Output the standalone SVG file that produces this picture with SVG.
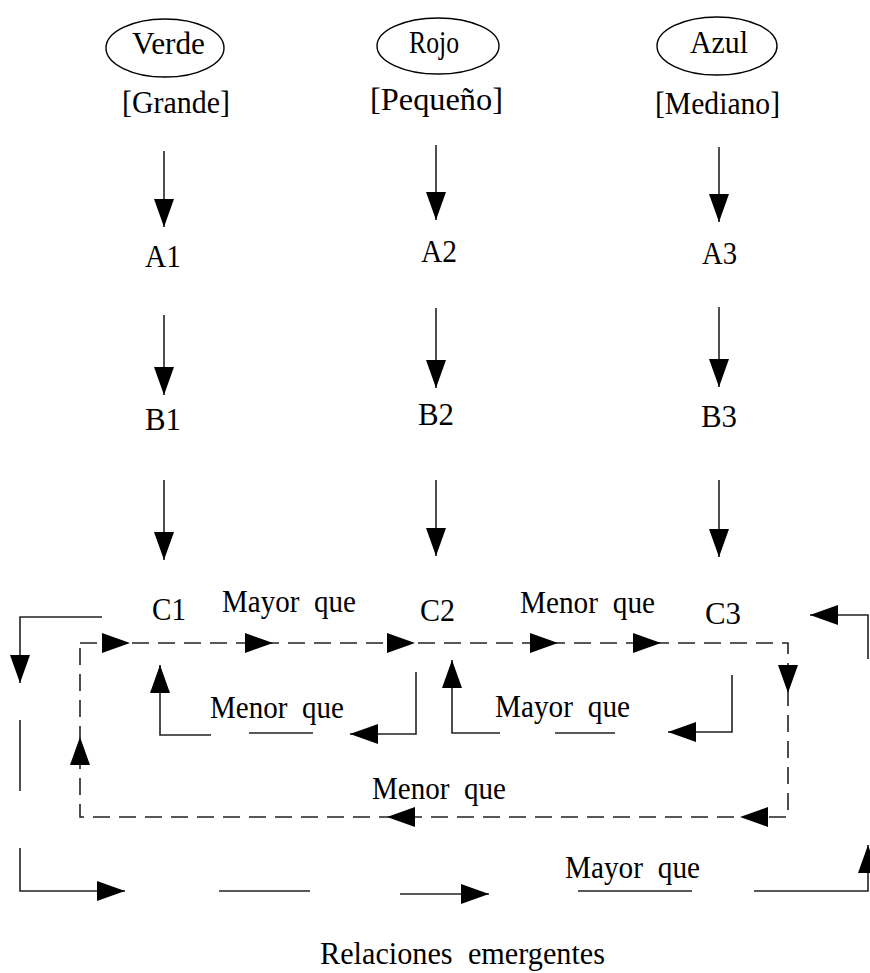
<svg xmlns="http://www.w3.org/2000/svg" xmlns:xlink="http://www.w3.org/1999/xlink" width="870" height="973" viewBox="0 0 870 973">
<style>
  text { font-family: "Liberation Serif", "Times New Roman", serif; font-size: 31px; fill: #000; }
  .wl { word-spacing: 8px; }
  .ln { fill: none; stroke: #222; stroke-width: 1.6; }
  .dash { fill: none; stroke: #222; stroke-width: 1.6; stroke-dasharray: 17 9; }
  .node { fill: #fff; stroke: #000; stroke-width: 1.4; }
  .ah { fill: #000; }
</style>
<defs>
  <path id="tri" d="M-28,-10 L0,0 L-28,10 Z"/>
  <marker id="arr" markerUnits="userSpaceOnUse" markerWidth="28" markerHeight="20" refX="28" refY="10" orient="auto" viewBox="0 0 28 20">
    <path d="M0,0 L28,10 L0,20 Z" fill="#000"/>
  </marker>
</defs>
<rect width="870" height="973" fill="#fff"/>

<g id="connectors">
  <line class="ln" x1="164" y1="151" x2="164" y2="227" marker-end="url(#arr)"/>
  <line class="ln" x1="164" y1="315" x2="164" y2="395" marker-end="url(#arr)"/>
  <line class="ln" x1="164" y1="480" x2="164" y2="560" marker-end="url(#arr)"/>
  <line class="ln" x1="436" y1="145" x2="436" y2="220" marker-end="url(#arr)"/>
  <line class="ln" x1="436" y1="308" x2="436" y2="388" marker-end="url(#arr)"/>
  <line class="ln" x1="436" y1="480" x2="436" y2="556" marker-end="url(#arr)"/>
  <line class="ln" x1="719" y1="147" x2="719" y2="222" marker-end="url(#arr)"/>
  <line class="ln" x1="719" y1="307" x2="719" y2="387" marker-end="url(#arr)"/>
  <line class="ln" x1="719" y1="480" x2="719" y2="557" marker-end="url(#arr)"/>

  <path class="dash" d="M80,643 H788 V817 H80 Z"/>
  <use xlink:href="#tri" class="ah" transform="translate(130,643)"/>
  <use xlink:href="#tri" class="ah" transform="translate(273,643)"/>
  <use xlink:href="#tri" class="ah" transform="translate(415,643)"/>
  <use xlink:href="#tri" class="ah" transform="translate(558,643)"/>
  <use xlink:href="#tri" class="ah" transform="translate(661,643)"/>
  <use xlink:href="#tri" class="ah" transform="translate(788,693) rotate(90)"/>
  <use xlink:href="#tri" class="ah" transform="translate(740,817) rotate(180)"/>
  <use xlink:href="#tri" class="ah" transform="translate(387,817) rotate(180)"/>
  <use xlink:href="#tri" class="ah" transform="translate(80,737) rotate(-90)"/>

  <path class="ln" d="M416,672 V734 H350"/>
  <use xlink:href="#tri" class="ah" transform="translate(350,734) rotate(180)"/>
  <line class="ln" x1="249" y1="733" x2="313" y2="733"/>
  <path class="ln" d="M211,735 H160 V665"/>
  <use xlink:href="#tri" class="ah" transform="translate(160,665) rotate(-90)"/>

  <path class="ln" d="M732,675 V732 H668"/>
  <use xlink:href="#tri" class="ah" transform="translate(668,732) rotate(180)"/>
  <line class="ln" x1="555" y1="733" x2="615" y2="733"/>
  <path class="ln" d="M500,733 H452 V660"/>
  <use xlink:href="#tri" class="ah" transform="translate(452,660) rotate(-90)"/>

  <path class="ln" d="M102,617 H20 V683"/>
  <use xlink:href="#tri" class="ah" transform="translate(20,683) rotate(90)"/>
  <line class="ln" x1="20" y1="720" x2="20" y2="791"/>
  <path class="ln" d="M20,848 V891 H125"/>
  <use xlink:href="#tri" class="ah" transform="translate(125,891)"/>
  <line class="ln" x1="219" y1="891" x2="310" y2="891"/>
  <line class="ln" x1="400" y1="894" x2="489" y2="894"/>
  <use xlink:href="#tri" class="ah" transform="translate(489,894)"/>
  <line class="ln" x1="578" y1="891" x2="692" y2="891"/>
  <path class="ln" d="M754,891 H868 V845"/>
  <use xlink:href="#tri" class="ah" transform="translate(868,845) rotate(-90)"/>
  <path class="ln" d="M868,659 V615 H810"/>
  <use xlink:href="#tri" class="ah" transform="translate(810,615) rotate(180)"/>
</g>

<g id="node-verde">
  <ellipse class="node" cx="165" cy="48" rx="59" ry="29"/>
  <text x="132" y="54" textLength="73" lengthAdjust="spacingAndGlyphs">Verde</text>
  <text x="122" y="113" textLength="108" lengthAdjust="spacingAndGlyphs">[Grande]</text>
</g>
<g id="node-rojo">
  <ellipse class="node" cx="438" cy="46" rx="61" ry="28"/>
  <text x="409" y="53" textLength="50" lengthAdjust="spacingAndGlyphs">Rojo</text>
  <text x="370" y="110" textLength="133" lengthAdjust="spacingAndGlyphs">[Pequeño]</text>
</g>
<g id="node-azul">
  <ellipse class="node" cx="717" cy="46" rx="60" ry="29"/>
  <text x="690" y="53" textLength="58" lengthAdjust="spacingAndGlyphs">Azul</text>
  <text x="655" y="114" textLength="125" lengthAdjust="spacingAndGlyphs">[Mediano]</text>
</g>
<g id="node-a1"><text x="145" y="267" textLength="36" lengthAdjust="spacingAndGlyphs">A1</text></g>
<g id="node-a2"><text x="421" y="262" textLength="36" lengthAdjust="spacingAndGlyphs">A2</text></g>
<g id="node-a3"><text x="702" y="264" textLength="35" lengthAdjust="spacingAndGlyphs">A3</text></g>
<g id="node-b1"><text x="145" y="430" textLength="36" lengthAdjust="spacingAndGlyphs">B1</text></g>
<g id="node-b2"><text x="418" y="425" textLength="36" lengthAdjust="spacingAndGlyphs">B2</text></g>
<g id="node-b3"><text x="701" y="427" textLength="36" lengthAdjust="spacingAndGlyphs">B3</text></g>
<g id="node-c1"><text x="152" y="620" textLength="34" lengthAdjust="spacingAndGlyphs">C1</text></g>
<g id="node-c2"><text x="420" y="621" textLength="35" lengthAdjust="spacingAndGlyphs">C2</text></g>
<g id="node-c3"><text x="705" y="624" textLength="36" lengthAdjust="spacingAndGlyphs">C3</text></g>

<g id="labels">
  <text class="wl" x="222" y="612" textLength="134" lengthAdjust="spacingAndGlyphs">Mayor que</text>
  <text class="wl" x="520" y="613" textLength="135" lengthAdjust="spacingAndGlyphs">Menor que</text>
  <text class="wl" x="210" y="718" textLength="134" lengthAdjust="spacingAndGlyphs">Menor que</text>
  <text class="wl" x="495" y="717" textLength="135" lengthAdjust="spacingAndGlyphs">Mayor que</text>
  <text class="wl" x="372" y="799" textLength="134" lengthAdjust="spacingAndGlyphs">Menor que</text>
  <text class="wl" x="565" y="878" textLength="135" lengthAdjust="spacingAndGlyphs">Mayor que</text>
  <text class="wl" x="320" y="964" textLength="285" lengthAdjust="spacingAndGlyphs" style="font-size:31px">Relaciones emergentes</text>
</g>
</svg>
